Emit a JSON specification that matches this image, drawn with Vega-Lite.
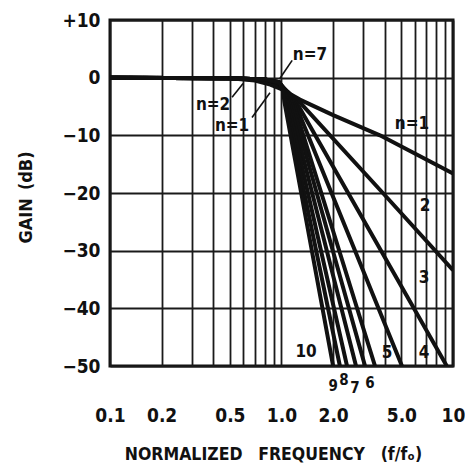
{
  "$schema": "https://vega.github.io/schema/vega-lite/v6.json",
  "autosize": "none",
  "width": 343,
  "height": 346,
  "padding": {"left": 110, "top": 20, "right": 12, "bottom": 109},
  "background": "white",
  "config": {
    "view": {"stroke": "#111111", "strokeWidth": 3},
    "font": "DejaVu Sans Condensed"
  },
  "datasets": {
    "curves": [
      {"n": 1, "f": 0.1, "g": 0}, {"n": 1, "f": 0.5, "g": -0.1}, {"n": 1, "f": 0.7, "g": -0.5}, {"n": 1, "f": 0.86, "g": -1.2}, {"n": 1, "f": 1.0, "g": -2.0}, {"n": 1, "f": 1.15, "g": -3.0}, {"n": 1, "f": 1.28, "g": -3.8}, {"n": 1, "f": 2.0, "g": -6.5}, {"n": 1, "f": 3.75, "g": -10}, {"n": 1, "f": 10, "g": -16.6},
      {"n": 2, "f": 0.1, "g": 0}, {"n": 2, "f": 0.5, "g": -0.1}, {"n": 2, "f": 0.7, "g": -0.3}, {"n": 2, "f": 0.9, "g": -1.0}, {"n": 2, "f": 1.1, "g": -2.6}, {"n": 2, "f": 1.3, "g": -4.5}, {"n": 2, "f": 3.9, "g": -20}, {"n": 2, "f": 10, "g": -33.4},
      {"n": 3, "f": 0.1, "g": 0}, {"n": 3, "f": 0.5, "g": -0.1}, {"n": 3, "f": 0.8, "g": -0.3}, {"n": 3, "f": 0.95, "g": -0.9}, {"n": 3, "f": 1.1, "g": -2.6}, {"n": 3, "f": 1.25, "g": -4.8}, {"n": 3, "f": 9.2, "g": -50},
      {"n": 4, "f": 0.1, "g": 0}, {"n": 4, "f": 0.5, "g": -0.1}, {"n": 4, "f": 0.8, "g": -0.3}, {"n": 4, "f": 0.96, "g": -0.9}, {"n": 4, "f": 1.1, "g": -2.6}, {"n": 4, "f": 1.22, "g": -5.0}, {"n": 4, "f": 5.04, "g": -50},
      {"n": 5, "f": 0.1, "g": 0}, {"n": 5, "f": 0.5, "g": -0.1}, {"n": 5, "f": 0.8, "g": -0.3}, {"n": 5, "f": 0.97, "g": -0.9}, {"n": 5, "f": 1.08, "g": -2.5}, {"n": 5, "f": 1.19, "g": -5.0}, {"n": 5, "f": 3.51, "g": -50},
      {"n": 6, "f": 0.1, "g": 0}, {"n": 6, "f": 0.5, "g": -0.1}, {"n": 6, "f": 0.8, "g": -0.3}, {"n": 6, "f": 0.97, "g": -0.9}, {"n": 6, "f": 1.07, "g": -2.4}, {"n": 6, "f": 1.16, "g": -5.0}, {"n": 6, "f": 3.07, "g": -50},
      {"n": 7, "f": 0.1, "g": 0}, {"n": 7, "f": 0.5, "g": -0.1}, {"n": 7, "f": 0.8, "g": -0.3}, {"n": 7, "f": 0.97, "g": -0.8}, {"n": 7, "f": 1.05, "g": -2.2}, {"n": 7, "f": 1.12, "g": -4.8}, {"n": 7, "f": 2.72, "g": -50},
      {"n": 8, "f": 0.1, "g": 0}, {"n": 8, "f": 0.5, "g": -0.1}, {"n": 8, "f": 0.8, "g": -0.3}, {"n": 8, "f": 0.97, "g": -0.8}, {"n": 8, "f": 1.04, "g": -2.2}, {"n": 8, "f": 1.09, "g": -4.6}, {"n": 8, "f": 2.41, "g": -50},
      {"n": 9, "f": 0.1, "g": 0}, {"n": 9, "f": 0.5, "g": -0.1}, {"n": 9, "f": 0.8, "g": -0.3}, {"n": 9, "f": 0.97, "g": -0.8}, {"n": 9, "f": 1.03, "g": -2.2}, {"n": 9, "f": 1.06, "g": -4.4}, {"n": 9, "f": 2.19, "g": -50},
      {"n": 10, "f": 0.1, "g": 0}, {"n": 10, "f": 0.5, "g": -0.1}, {"n": 10, "f": 0.8, "g": -0.3}, {"n": 10, "f": 0.97, "g": -0.8}, {"n": 10, "f": 1.02, "g": -2.2}, {"n": 10, "f": 1.04, "g": -4.2}, {"n": 10, "f": 2.0, "g": -50}
    ],
    "pointers": [
      {"id": "n7", "f": 1.154, "g": 3.0}, {"id": "n7", "f": 0.98, "g": -0.1},
      {"id": "n2", "f": 0.515, "g": -3.4}, {"id": "n2", "f": 0.597, "g": -1.0},
      {"id": "n1", "f": 0.673, "g": -6.9}, {"id": "n1", "f": 0.857, "g": -2.6}
    ],
    "labels": [
      {"t": "n=7", "f": 1.466, "g": 3.9},
      {"t": "n=2", "f": 0.399, "g": -4.8},
      {"t": "n=1", "f": 0.515, "g": -8.45},
      {"t": "n=1", "f": 5.77, "g": -7.95},
      {"t": "2", "f": 6.87, "g": -22.2},
      {"t": "3", "f": 6.78, "g": -34.7},
      {"t": "4", "f": 6.78, "g": -47.7},
      {"t": "5", "f": 4.12, "g": -47.7},
      {"t": "10", "f": 1.39, "g": -47.5}
    ],
    "bottomlabels": [
      {"t": "9", "f": 2.0, "g": -53.4},
      {"t": "8", "f": 2.31, "g": -52.5},
      {"t": "7", "f": 2.68, "g": -53.8},
      {"t": "6", "f": 3.28, "g": -52.9}
    ]
  },
  "layer": [
    {
      "data": {"name": "curves"},
      "mark": {"type": "line", "color": "#111111", "strokeWidth": 4, "interpolate": "linear", "strokeJoin": "round", "clip": true},
      "encoding": {
        "x": {
          "field": "f", "type": "quantitative",
          "scale": {"type": "log", "domain": [0.1, 10], "nice": false},
          "axis": {
            "values": [0.1, 0.2, 0.3, 0.4, 0.5, 0.6, 0.7, 0.8, 0.9, 1, 2, 3, 4, 5, 6, 7, 8, 9, 10],
            "labelExpr": "datum.value==0.1?'0.1':datum.value==0.2?'0.2':datum.value==0.5?'0.5':datum.value==1?'1.0':datum.value==2?'2.0':datum.value==5?'5.0':datum.value==10?'10':''",
            "grid": true, "gridColor": "#1a1a1a", "gridWidth": 1.8, "gridOpacity": 1,
            "ticks": false, "domain": false,
            "labelPadding": 40, "labelFontSize": 19, "labelFontWeight": "bold", "labelColor": "#111111",
            "labelOverlap": false, "labelFlush": false, "labelBound": false,
            "title": "NORMALIZED\u2003FREQUENCY\u2003(f/fₒ)",
            "titleFontSize": 17.5, "titleFontWeight": "bold", "titleColor": "#111111",
            "titleX": 163, "titleY": 79, "titleAlign": "center", "titleBaseline": "top", "titleAnchor": null
          }
        },
        "y": {
          "field": "g", "type": "quantitative",
          "scale": {"domain": [-50, 10], "nice": false, "zero": false},
          "axis": {
            "values": [-50, -40, -30, -20, -10, 0, 10],
            "labelExpr": "datum.value>0?'+'+datum.value:(datum.value<0?'−'+abs(datum.value):'0')",
            "grid": true, "gridColor": "#1a1a1a", "gridWidth": 1.8, "gridOpacity": 1,
            "ticks": false, "domain": false,
            "labelPadding": 10, "labelFontSize": 19, "labelFontWeight": "bold", "labelColor": "#111111",
            "labelOverlap": false, "labelBound": false, "labelFlush": false,
            "title": "GAIN\u2002(dB)",
            "titleFontSize": 18, "titleFontWeight": "bold", "titleColor": "#111111",
            "titleAngle": -90, "titleX": -84, "titleY": 177, "titleAlign": "center", "titleBaseline": "middle"
          }
        },
        "detail": {"field": "n", "type": "nominal"}
      }
    },
    {
      "data": {"name": "pointers"},
      "mark": {"type": "line", "color": "#111111", "strokeWidth": 1.6},
      "encoding": {
        "x": {"field": "f", "type": "quantitative"},
        "y": {"field": "g", "type": "quantitative"},
        "detail": {"field": "id", "type": "nominal"}
      }
    },
    {
      "data": {"name": "labels"},
      "mark": {"type": "text", "fontSize": 17, "fontWeight": "bold", "color": "#111111", "baseline": "middle", "align": "center"},
      "encoding": {
        "x": {"field": "f", "type": "quantitative"},
        "y": {"field": "g", "type": "quantitative"},
        "text": {"field": "t"}
      }
    },
    {
      "data": {"name": "bottomlabels"},
      "mark": {"type": "text", "fontSize": 15, "fontWeight": "bold", "color": "#111111", "baseline": "middle", "align": "center"},
      "encoding": {
        "x": {"field": "f", "type": "quantitative"},
        "y": {"field": "g", "type": "quantitative"},
        "text": {"field": "t"}
      }
    }
  ]
}
